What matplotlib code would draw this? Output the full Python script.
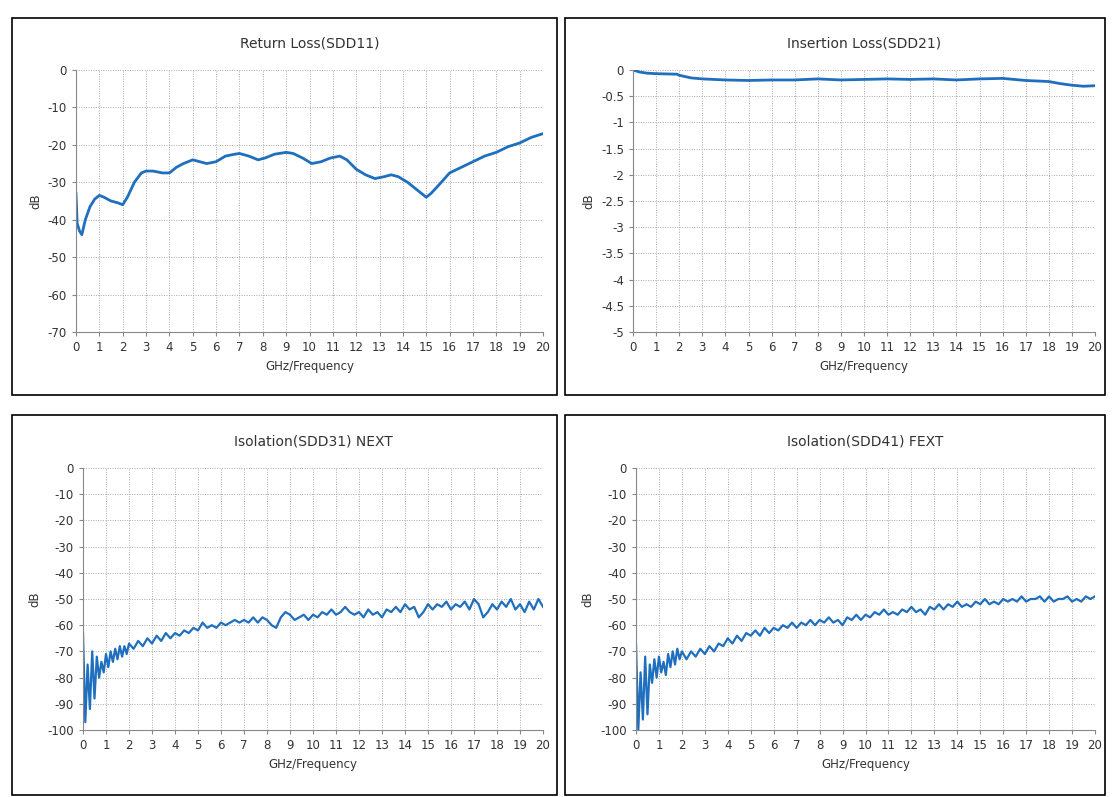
import numpy as np
import matplotlib
matplotlib.use("Agg")
import matplotlib.pyplot as plt
from matplotlib.patches import Rectangle

plt.rcParams["axes.unicode_minus"] = False
plt.rcParams["font.family"] = "DejaVu Sans"

# ---- data ----
rl_freq = [0, 0.05, 0.15, 0.25, 0.4, 0.6, 0.8, 1.0, 1.2, 1.5, 1.8, 2.0, 2.2, 2.5, 2.8, 3.0, 3.3, 3.7, 4.0, 4.3,
           4.6, 5.0, 5.3, 5.6, 6.0, 6.4, 6.8, 7.0, 7.4, 7.8, 8.1, 8.5, 9.0, 9.3, 9.7, 10.1, 10.5, 10.9, 11.3, 11.6,
           12.0, 12.4, 12.8, 13.2, 13.5, 13.8, 14.2, 14.5, 14.8, 15.0, 15.2, 15.5, 16.0, 16.5, 17.0, 17.5, 18.0,
           18.5, 19.0, 19.5, 20.0]
rl_db = [-33, -41, -43, -44, -40, -36.5, -34.5, -33.5, -34, -35, -35.5, -36, -34, -30, -27.5, -27, -27, -27.5,
         -27.5, -26, -25, -24, -24.5, -25, -24.5, -23, -22.5, -22.3, -23, -24, -23.5, -22.5, -22, -22.3, -23.5,
         -25, -24.5, -23.5, -23, -24, -26.5, -28, -29, -28.5, -28, -28.5, -30, -31.5, -33, -34, -33, -31, -27.5,
         -26, -24.5, -23, -22, -20.5, -19.5, -18, -17]

il_freq = [0, 0.3, 0.6, 1, 1.9, 2.0, 2.5, 3, 4, 5, 6, 7, 8, 9, 10, 11, 12, 13, 14, 15, 16, 17, 18, 18.5, 19, 19.5, 20]
il_db = [0, -0.04, -0.06, -0.07, -0.08, -0.1, -0.15, -0.17, -0.19, -0.2, -0.19, -0.19, -0.17, -0.19, -0.18,
         -0.17, -0.18, -0.17, -0.19, -0.17, -0.16, -0.2, -0.22, -0.26, -0.29, -0.31, -0.3]

next_low = [-63, -97, -75, -92, -70, -88, -72, -80, -74, -78, -71, -76, -70, -74, -69, -73, -68, -72, -68, -71, -67]
next_high = [-69, -66, -68, -65, -67, -64, -66, -63, -65, -63, -64, -62, -63, -61, -62, -59, -61, -60, -61, -59,
             -60, -59, -58, -59, -58, -59, -57, -59, -57, -58, -60, -61, -57, -55, -56, -58, -57, -56, -58, -56,
             -57, -55, -56, -54, -56, -55, -53, -55, -56, -55, -57, -54, -56, -55, -57, -54, -55, -53, -55, -52,
             -54, -53, -57, -55, -52, -54, -52, -53, -51, -54, -52, -53, -51, -54, -50, -52, -57, -55, -52, -54,
             -51, -53, -50, -54, -52, -55, -51, -54, -50, -53]
fext_low = [-67, -100, -78, -96, -72, -94, -75, -82, -73, -80, -72, -78, -74, -79, -71, -76, -70, -75, -69, -73, -70]
fext_high = [-73, -70, -72, -69, -71, -68, -70, -67, -68, -65, -67, -64, -66, -63, -64, -62, -64, -61, -63, -61,
             -62, -60, -61, -59, -61, -59, -60, -58, -60, -58, -59, -57, -59, -58, -60, -57, -58, -56, -58, -56,
             -57, -55, -56, -54, -56, -55, -56, -54, -55, -53, -55, -54, -56, -53, -54, -52, -54, -52, -53, -51,
             -53, -52, -53, -51, -52, -50, -52, -51, -52, -50, -51, -50, -51, -49, -51, -50, -50, -49, -51, -49,
             -51, -50, -50, -49, -51, -50, -51, -49, -50, -49]

xt_freq = list(np.linspace(0, 2, len(next_low))) + list(np.linspace(2.2, 20, len(next_high)))
next_db = next_low + next_high
fext_db = fext_low + fext_high

titles = ["Return Loss(SDD11)", "Insertion Loss(SDD21)", "Isolation(SDD31) NEXT", "Isolation(SDD41) FEXT"]

W, H = 1118, 797
fig = plt.figure(figsize=(W / 100, H / 100), dpi=100)
color = "#1F6FBF"

panels = [(12, 18, 557, 395), (565, 18, 1105, 395), (12, 415, 557, 795), (565, 415, 1105, 795)]
axes_px = [(76, 70, 543, 332), (633, 70, 1095, 332), (83, 468, 543, 730), (636, 468, 1095, 730)]

for (x0, y0, x1, y1) in panels:
    fig.patches.append(Rectangle((x0 / W, 1 - y1 / H), (x1 - x0) / W, (y1 - y0) / H,
                                 transform=fig.transFigure, fill=False, ec="black", lw=1.2))

data = [(rl_freq, rl_db, (-70, 0), 10), (il_freq, il_db, (-5, 0), 0.5),
        (xt_freq, next_db, (-100, 0), 10), (xt_freq, fext_db, (-100, 0), 10)]

for i, ((ax0, ay0, ax1, ay1), (fx, fy, ylim, ystep)) in enumerate(zip(axes_px, data)):
    ax = fig.add_axes([ax0 / W, 1 - ay1 / H, (ax1 - ax0) / W, (ay1 - ay0) / H])
    ax.plot(fx, fy, color=color, lw=2 if i < 2 else 1.6)
    ax.set_xlim(0, 20)
    ax.set_ylim(*ylim)
    ax.set_xticks(range(0, 21))
    yt = np.arange(ylim[0], ylim[1] + ystep / 2, ystep)
    ax.set_yticks(yt)
    ax.set_yticklabels(["0" if abs(v) < 1e-9 else ("%g" % v) for v in yt])
    ax.grid(True, color="#AAAAAA", ls=(0, (1, 1.5)), lw=0.7)
    for s in ["top", "right"]:
        ax.spines[s].set_visible(False)
    for s in ["left", "bottom"]:
        ax.spines[s].set_color("#888888")
    ax.tick_params(labelsize=8.5, colors="#333333", length=3, color="#888888")
    ax.set_xlabel("GHz/Frequency", fontsize=8.5, color="#333333", labelpad=4)
    ax.set_ylabel("dB", fontsize=8.5, color="#333333")
    ax.set_title(titles[i], fontsize=10, color="#333333", pad=16)

fig.savefig("out.png", dpi=100, facecolor="white")
